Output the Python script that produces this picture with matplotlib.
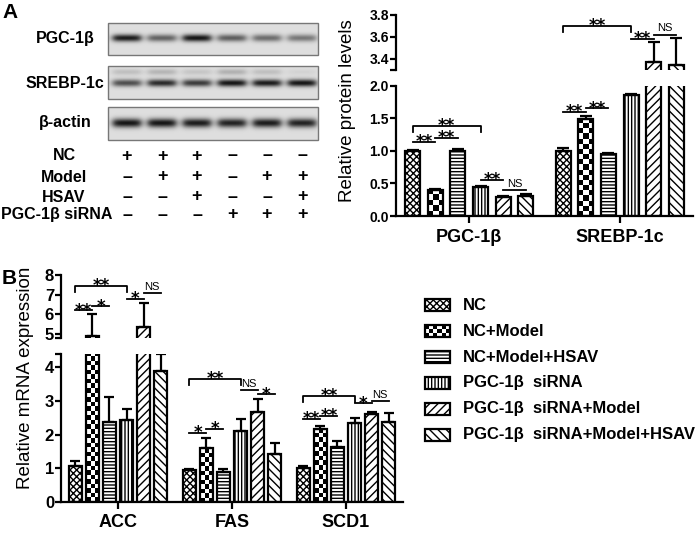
import numpy as np
import matplotlib
matplotlib.use('Agg')
import matplotlib.pyplot as plt
from matplotlib.patches import Rectangle

plt.rcParams['font.family'] = ['Liberation Sans', 'DejaVu Sans']
plt.rcParams['hatch.linewidth'] = 1.0

W, H = 699, 535

groups = ['NC', 'NC+Model', 'NC+Model+HSAV', 'PGC-1β  siRNA',
          'PGC-1β  siRNA+Model', 'PGC-1β  siRNA+Model+HSAV']

# panel A, protein levels
prot_genes = ['PGC-1β', 'SREBP-1c']
prot_mean = [[1.00, 0.40, 1.00, 0.44, 0.29, 0.31],
             [1.00, 1.49, 0.95, 1.86, 3.37, 3.35]]
prot_err = [[0.01, 0.01, 0.02, 0.02, 0.02, 0.02],
            [0.04, 0.04, 0.01, 0.01, 0.18, 0.24]]

# panel B, mRNA expression
mrna_genes = ['ACC', 'FAS', 'SCD1']
mrna_mean = [[1.05, 4.88, 2.37, 2.42, 5.35, 3.88],
             [0.93, 1.60, 0.88, 2.10, 2.67, 1.42],
             [1.00, 2.18, 1.63, 2.35, 2.62, 2.38]]
mrna_err = [[0.15, 1.12, 0.76, 0.33, 1.20, 0.52],
            [0.05, 0.30, 0.10, 0.37, 0.40, 0.33],
            [0.05, 0.08, 0.17, 0.15, 0.04, 0.25]]

# significance marks: (group, bar i, bar j, height, label, bracket)
sig_A = [(0, 0, 3, 1.38, '**', True), (0, 0, 1, 1.14, '**', False),
         (0, 1, 2, 1.20, '**', False), (0, 3, 4, 0.55, '**', False),
         (0, 4, 5, 0.40, 'NS', False), (1, 0, 1, 1.60, '**', False),
         (1, 1, 2, 1.65, '**', False), (1, 0, 3, 3.70, '**', True),
         (1, 3, 4, 3.58, '**', False), (1, 4, 5, 3.62, 'NS', False)]
sig_B = [(0, 0, 3, 7.44, '**', True), (0, 0, 1, 6.20, '**', False),
         (0, 1, 2, 6.40, '*', False), (0, 3, 4, 6.80, '*', False),
         (0, 4, 5, 7.07, 'NS', False), (1, 0, 3, 3.67, '**', True),
         (1, 0, 1, 2.05, '*', False), (1, 1, 2, 2.17, '*', False),
         (1, 3, 4, 3.32, 'NS', False), (1, 4, 5, 3.20, '*', False),
         (2, 0, 3, 3.15, '**', True), (2, 0, 1, 2.47, '**', False),
         (2, 1, 2, 2.55, '**', False), (2, 3, 4, 2.93, '*', False),
         (2, 4, 5, 3.00, 'NS', False)]

# western blot band darkness per lane
pgc_band = [0.95, 0.60, 0.98, 0.62, 0.55, 0.50]
srebp_band = [0.70, 0.88, 0.80, 0.98, 0.95, 0.98]
srebp_upper = [0.15, 0.20, 0.12, 0.22, 0.15, 0.05]
actin_band = [0.98, 0.98, 0.95, 0.92, 0.95, 0.92]

treat_rows = ['NC', 'Model', 'HSAV', 'PGC-1β siRNA']
treat_signs = [['+', '+', '+', '–', '–', '–'],
               ['–', '+', '+', '–', '+', '+'],
               ['–', '–', '+', '–', '–', '+'],
               ['–', '–', '–', '+', '+', '+']]

hatches = ['xxxxx', None, '-----', '|||||', '////', '\\\\\\\\']


def rect(x0, y0, x1, y1):
    return [x0 / W, 1 - y1 / H, (x1 - x0) / W, (y1 - y0) / H]


def checker(ax, x0, y0, w, h, cell, zorder=1.5):
    # checkerboard fill, exactly the size of the bar
    (px0, py0), (px1, py1) = ax.transData.transform([(x0, y0), (x0 + w, y0 + h)])
    nx = max(1, int(round(abs(px1 - px0) / cell)))
    ny = max(1, int(round(abs(py1 - py0) / cell)))
    img = np.indices((ny, nx)).sum(axis=0) % 2
    return ax.imshow(img, cmap='gray', extent=(x0, x0 + w, y0, y0 + h), origin='lower',
                     aspect='auto', interpolation='nearest', zorder=zorder)


fig = plt.figure(figsize=(W / 100, H / 100), dpi=100)
ov = fig.add_axes([0, 0, 1, 1])
ov.set_xlim(0, W)
ov.set_ylim(H, 0)
ov.axis('off')


def draw_bars(lo, hi, means, errs, spacing, width, cell, capsize):
    offs = (np.arange(6) - 2.5) * spacing
    for ax in (lo, hi):
        for g in range(len(means)):
            for k in range(6):
                x = g + offs[k]
                if k == 1:
                    ax.bar(x, means[g][k], width, facecolor='none', edgecolor='black',
                           linewidth=1.6, zorder=2)
                    checker(ax, x - width / 2, 0, width, means[g][k], cell)
                else:
                    ax.bar(x, means[g][k], width, facecolor='white', edgecolor='black',
                           hatch=hatches[k], linewidth=1.6, zorder=2)
                ax.errorbar(x, means[g][k], yerr=[[0], [errs[g][k]]], fmt='none',
                            ecolor='black', elinewidth=1.6, capsize=capsize,
                            capthick=1.6, zorder=3)
    return offs


def style_axes(lo, hi, lo_ticks, lo_labels, hi_ticks, hi_labels, ticksize, names, namesize):
    for ax in (lo, hi):
        ax.set_facecolor('none')
        for s in ('top', 'right'):
            ax.spines[s].set_visible(False)
        ax.spines['left'].set_linewidth(1.6)
        ax.tick_params(axis='y', length=4, width=1.6, labelsize=ticksize, pad=1)
    hi.spines['bottom'].set_visible(False)
    hi.set_xticks([])
    lo.spines['bottom'].set_linewidth(1.6)
    lo.set_yticks(lo_ticks, lo_labels, fontweight='bold')
    hi.set_yticks(hi_ticks, hi_labels, fontweight='bold')
    lo.set_xticks(range(len(names)), names, fontweight='bold', fontsize=namesize)
    lo.tick_params(axis='x', length=5, width=1.6, pad=4)


def draw_sig(lo, hi, offs, marks):
    for g, i, j, y, lab, bracket in marks:
        ax = hi if y > lo.get_ylim()[1] else lo
        y0, y1 = ax.get_ylim()
        per_px = (y1 - y0) / (ax.get_position().height * H)
        xa, xb = g + offs[i], g + offs[j]
        if bracket:
            drop = 6 * per_px
            ax.plot([xa, xa, xb, xb], [y - drop, y, y, y - drop], color='black', lw=1.3,
                    clip_on=False, zorder=4)
        else:
            ax.plot([xa, xb], [y, y], color='black', lw=1.3, clip_on=False, zorder=4)
        if lab == 'NS':
            ax.annotate(lab, ((xa + xb) / 2, y), xytext=(0, 1), textcoords='offset points',
                        ha='center', va='bottom', fontsize=8)
        else:
            ax.annotate(lab, ((xa + xb) / 2, y), xytext=(0, -3.8), textcoords='offset points',
                        ha='center', va='baseline', fontsize=12, fontweight='bold',
                        family='DejaVu Sans')


# ---- panel A chart
aA_lo = fig.add_axes(rect(396, 85.6, 693, 216))
aA_hi = fig.add_axes(rect(396, 15, 693, 70))
for ax in (aA_lo, aA_hi):
    ax.set_xlim(-0.487, 1.487)
aA_lo.set_ylim(0, 2.0)
aA_hi.set_ylim(3.3, 3.8)
offA = draw_bars(aA_lo, aA_hi, prot_mean, prot_err, 0.1507, 0.1, 5, 4.3)
for ax in (aA_lo, aA_hi):
    ax.set_xlim(-0.487, 1.487)
aA_lo.set_ylim(0, 2.0)
aA_hi.set_ylim(3.3, 3.8)
style_axes(aA_lo, aA_hi, [0, 0.5, 1.0, 1.5, 2.0], ['0.0', '0.5', '1.0', '1.5', '2.0'],
           [3.3, 3.4, 3.6, 3.8], ['', '3.4', '3.6', '3.8'], 10, prot_genes, 13)
draw_sig(aA_lo, aA_hi, offA, sig_A)
ov.text(348, 111, 'Relative protein levels', rotation=90, ha='center', va='center', fontsize=13.5)

# ---- panel B chart
aB_lo = fig.add_axes(rect(61, 354, 403, 501.7))
aB_hi = fig.add_axes(rect(61, 275, 403, 337.7))
for ax in (aB_lo, aB_hi):
    ax.set_xlim(-0.5, 2.5)
aB_lo.set_ylim(0, 4.4)
aB_hi.set_ylim(4.8, 8.0)
offB = draw_bars(aB_lo, aB_hi, mrna_mean, mrna_err, 0.150, 0.118, 4.5, 3.6)
for ax in (aB_lo, aB_hi):
    ax.set_xlim(-0.5, 2.5)
aB_lo.set_ylim(0, 4.4)
aB_hi.set_ylim(4.8, 8.0)
style_axes(aB_lo, aB_hi, [0, 1, 2, 3, 4, 4.4], ['0', '1', '2', '3', '4', ''],
           [4.8, 5, 6, 7, 8], ['', '5', '6', '7', '8'], 12, mrna_genes, 13)
draw_sig(aB_lo, aB_hi, offB, sig_B)
ov.text(26, 378, 'Relative mRNA expression', rotation=90, ha='center', va='center', fontsize=13.5)

# ---- legend
for k, name in enumerate(groups):
    yc = 305 + 26 * k
    if k == 1:
        ov.imshow(np.indices((3, 6)).sum(axis=0) % 2, cmap='gray',
                  extent=(425, 450, yc + 6, yc - 6), origin='upper', aspect='auto',
                  interpolation='nearest', zorder=1)
        box = Rectangle((425, yc - 6), 25, 12, facecolor='none', edgecolor='black', lw=1.6, zorder=2)
    else:
        box = Rectangle((425, yc - 6), 25, 12, facecolor='white', edgecolor='black', lw=1.6,
                        hatch=hatches[k], zorder=2)
    ov.add_patch(box)
    ov.text(463, yc, name, ha='left', va='center', fontsize=12, fontweight='bold')

# ---- western blot strips
lane_x = [127 + 35 * k for k in range(6)]


def blot(x0, y0, x1, y1, bands):
    w, h = int(x1 - x0), int(y1 - y0)
    yy, xx = np.mgrid[0:h, 0:w] + 0.5
    img = np.full((h, w), 0.87)
    for yc, sy, vals in bands:
        for k, v in enumerate(vals):
            px = 1 / (1 + np.exp((np.abs(xx - (lane_x[k] - x0)) - 14) / 2.0))
            py = np.exp(-0.5 * ((yy - yc) / sy) ** 2)
            img -= 0.8 * v * px * py
    ov.imshow(np.clip(img, 0, 1), cmap='gray', vmin=0, vmax=1, extent=(x0, x1, y1, y0),
              origin='upper', aspect='auto', interpolation='bilinear')
    ov.add_patch(Rectangle((x0, y0), x1 - x0, y1 - y0, fill=False, ec='#777777', lw=1))


blot(108, 23, 318, 55, [(15, 2.6, pgc_band)])
blot(108, 66, 318, 99, [(17, 2.6, srebp_band), (6, 2.2, srebp_upper)])
blot(108, 107, 318, 140, [(16, 3.2, actin_band)])
ov.set_xlim(0, W)
ov.set_ylim(H, 0)

for name, yc in zip(['PGC-1β', 'SREBP-1c', 'β-actin'], [39, 83, 123]):
    ov.text(65, yc, name, ha='center', va='center', fontsize=11.5, fontweight='bold')

for r, (name, yc) in enumerate(zip(treat_rows, [156, 177, 197, 215])):
    ov.text(57 if r == 3 else 64, yc, name, ha='center', va='center', fontsize=11.5,
            fontweight='bold')
    for k in range(6):
        ov.text(lane_x[k], yc, treat_signs[r][k], ha='center', va='center', fontsize=13,
                fontweight='bold')

ov.text(2, 12, 'A', ha='left', va='center', fontsize=15, fontweight='bold')
ov.text(2, 278, 'B', ha='left', va='center', fontsize=15, fontweight='bold')

fig.savefig('out.png', dpi=100)
